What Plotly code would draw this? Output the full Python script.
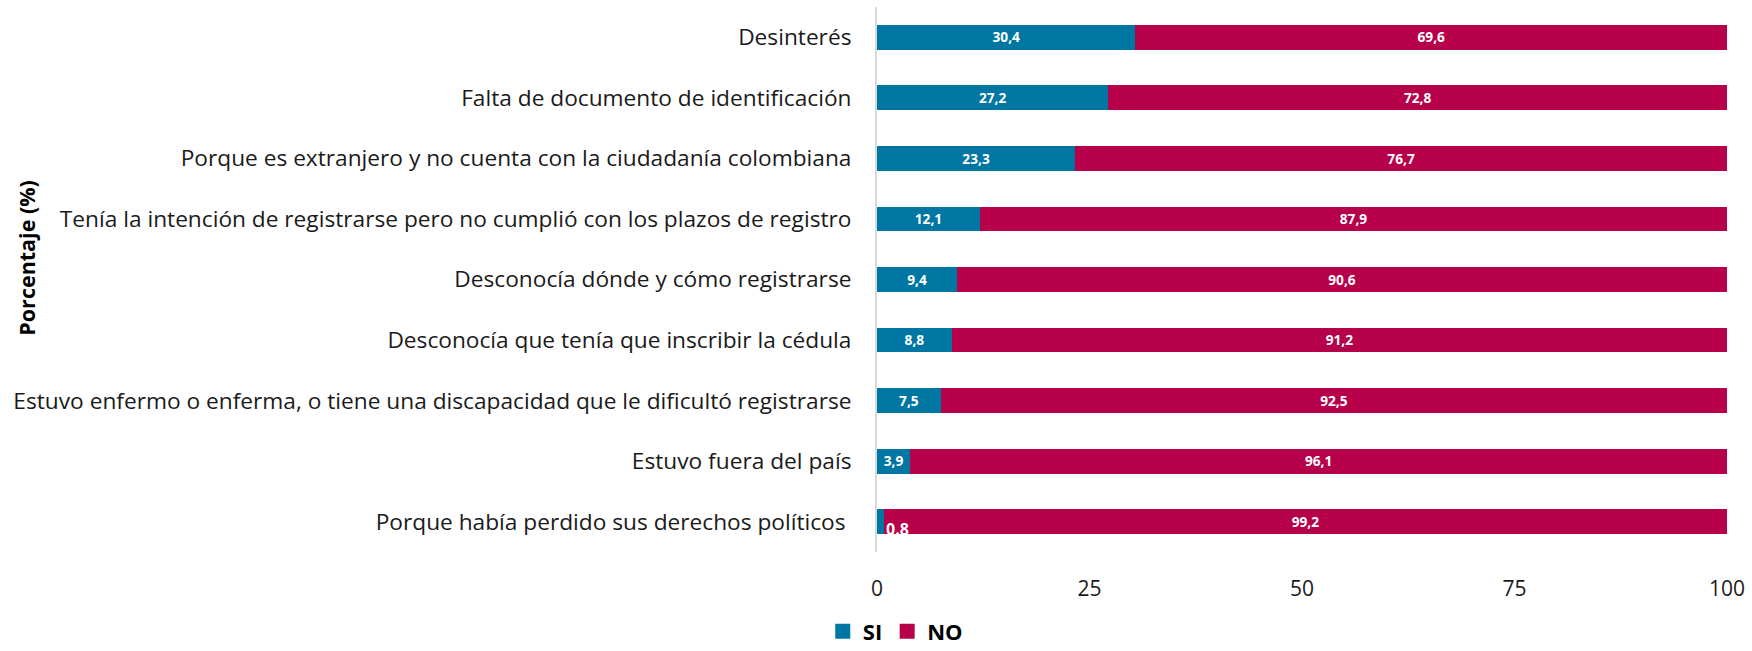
import plotly.graph_objects as go

categorias = [
    "Desinterés",
    "Falta de documento de identificación",
    "Porque es extranjero y no cuenta con la ciudadanía colombiana",
    "Tenía la intención de registrarse pero no cumplió con los plazos de registro",
    "Desconocía dónde y cómo registrarse",
    "Desconocía que tenía que inscribir la cédula",
    "Estuvo enfermo o enferma, o tiene una discapacidad que le dificultó registrarse",
    "Estuvo fuera del país",
    "Porque había perdido sus derechos políticos\u00a0",
]
si = [30.4, 27.2, 23.3, 12.1, 9.4, 8.8, 7.5, 3.9, 0.8]
no = [69.6, 72.8, 76.7, 87.9, 90.6, 91.2, 92.5, 96.1, 99.2]
ticks_x = [0, 25, 50, 75, 100]

azul = "#0077A3"
rojo = "#B7004A"
fuente = "Open Sans"


def etiqueta(v):
    return f"{v:.1f}".replace(".", ",")


# the smallest bar is too thin for its label, it goes outside as in the original
texto_si = [etiqueta(v) if v >= 2 else "" for v in si]
texto_no = [etiqueta(v) for v in no]
letra_barras = dict(color="white", size=16, family=fuente, weight="bold")

fig = go.Figure()
fig.add_trace(go.Bar(
    y=categorias, x=si, name="SI", orientation="h", showlegend=False,
    marker=dict(color=azul, line=dict(width=0)),
    text=texto_si, textposition="inside", insidetextanchor="middle",
    textfont=letra_barras, textangle=0,
))
fig.add_trace(go.Bar(
    y=categorias, x=no, name="NO", orientation="h", showlegend=False,
    marker=dict(color=rojo, line=dict(width=0)),
    text=texto_no, textposition="inside", insidetextanchor="middle",
    textfont=letra_barras, textangle=0,
))

# legend entries with bigger squares
for nombre, color in [("SI", azul), ("NO", rojo)]:
    fig.add_trace(go.Scatter(
        x=[None], y=[None], mode="markers", name=nombre,
        marker=dict(symbol="square", size=15, color=color),
    ))

for c, v in zip(categorias, si):
    if v < 2:
        fig.add_annotation(
            x=v, y=c, text=f"{v:.1f}", showarrow=False,
            xanchor="left", yanchor="middle", yshift=-7, xshift=0,
            font=letra_barras,
        )

fig.add_annotation(
    text="<b>Porcentaje (%)</b>", textangle=-90,
    xref="paper", yref="paper", x=-1.0, y=0.54,
    xanchor="center", yanchor="middle", showarrow=False,
    font=dict(size=21.5, color="black", family=fuente),
)

fig.update_layout(
    barmode="stack",
    bargap=0.59,
    width=1752, height=651,
    paper_bgcolor="white", plot_bgcolor="white",
    margin=dict(l=877, r=23, t=7, b=99),
    font=dict(family=fuente, color="#1a1a1a", size=22),
    showlegend=True,
    legend=dict(
        orientation="h", xref="container", yref="container",
        x=0.511, xanchor="center", y=0.03, yanchor="middle",
        font=dict(size=22, color="black", weight="bold"),
        itemwidth=30, traceorder="normal", tracegroupgap=0,
    ),
    xaxis=dict(
        range=[0, 100], tickvals=ticks_x, showgrid=False, zeroline=False,
        showline=False, ticks="", tickfont=dict(size=21, color="#1a1a1a"),
        ticklabelstandoff=22,
    ),
    yaxis=dict(
        autorange="reversed", showgrid=False, zeroline=False,
        showline=True, linecolor="#d9d9d9", linewidth=2, ticks="",
        tickfont=dict(size=22.7, color="#1a1a1a"), ticklabelstandoff=19,
    ),
)

# page margin off so the figure fills the window exactly
fig.write_html(
    "out.html",
    config={"displayModeBar": False},
    post_script="document.body.style.margin='0';",
)
